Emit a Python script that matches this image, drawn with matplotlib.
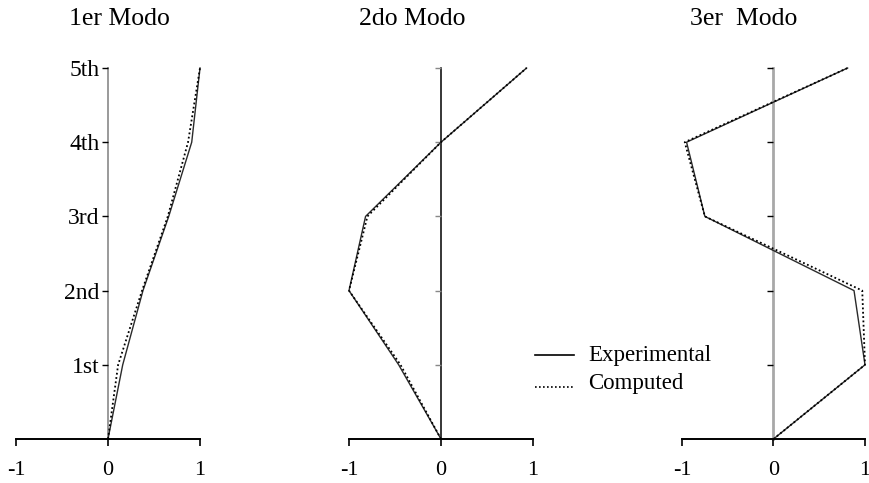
import matplotlib
matplotlib.use("Agg")
import matplotlib.pyplot as plt
from matplotlib.lines import Line2D

plt.rcParams['font.family'] = ['Liberation Serif', 'DejaVu Serif']
plt.rcParams['axes.unicode_minus'] = False

# floor levels (0 = ground)
levels = [0, 1, 2, 3, 4, 5]
level_names = ["1st", "2nd", "3rd", "4th", "5th"]

# modal shapes, normalised
mode1_exp = [0, 0.16, 0.38, 0.66, 0.91, 1.0]
mode1_cmp = [0, 0.11, 0.37, 0.65, 0.87, 1.0]
mode2_exp = [0, -0.46, -1.0, -0.82, 0.0, 0.93]
mode2_cmp = [0, -0.44, -1.0, -0.80, 0.0, 0.93]
mode3_exp = [0, 1.0, 0.88, -0.75, -0.95, 0.81]
mode3_cmp = [0, 1.0, 0.97, -0.75, -0.97, 0.81]

titles = ["1er Modo", "2do Modo", "3er  Modo"]
title_x = [119, 412, 744]

W, H = 870, 483
fig = plt.figure(figsize=(W / 100, H / 100), dpi=100)

# pixel position of x=-1 and x=1 for each panel
panel_px = [(16, 200), (349, 533), (682, 865)]
y0, y5 = 439, 68
spine_style = [("#9a9a9a", 1.4), ("black", 1.1), ("#a8a8a8", 2.0)]
tick_col = ["black", "#888888", "black"]

data = [(mode1_exp, mode1_cmp), (mode2_exp, mode2_cmp), (mode3_exp, mode3_cmp)]

for i, ((exp, cmp), (xl, xr)) in enumerate(zip(data, panel_px)):
    ax = fig.add_axes([xl / W, (H - y0) / H, (xr - xl) / W, (y0 - y5) / H])
    ax.plot(exp, levels, color="#2a2a2a", lw=1.0, clip_on=False)
    ax.plot(cmp, levels, color="black", lw=1.3, linestyle=(0, (1, 1.4)), clip_on=False)
    ax.set_xlim(-1, 1)
    ax.set_ylim(0, 5)
    ax.set_facecolor("none")
    for s in ["top", "right"]:
        ax.spines[s].set_visible(False)
    ax.spines["left"].set_position(("data", 0))
    ax.spines["left"].set_color(spine_style[i][0])
    ax.spines["left"].set_linewidth(spine_style[i][1])
    ax.spines["left"].set_zorder(0)
    ax.spines["bottom"].set_linewidth(1.4)
    ax.set_xticks([-1, 0, 1])
    ax.set_xticklabels(["-1", "0", "1"], fontsize=16)
    ax.tick_params(axis="x", direction="out", length=5, width=1.2, pad=11)
    ax.set_yticks(levels[1:])
    if i == 0:
        ax.set_yticklabels(level_names, fontsize=17)
    else:
        ax.set_yticklabels([])
    ax.tick_params(axis="y", direction="out", length=4, width=1.0,
                   color=tick_col[i], pad=2)
    fig.text(title_x[i] / W, 1 - 19 / H, titles[i], fontsize=18.5,
             ha="center", va="center")

# legend drawn by hand between panels 2 and 3
fig.add_artist(Line2D([535 / W, 574 / W], [1 - 355 / H, 1 - 355 / H],
                      color="black", lw=1.2))
fig.add_artist(Line2D([535 / W, 574 / W], [1 - 387 / H, 1 - 387 / H],
                      color="black", lw=1.2, linestyle=(0, (1, 1.4))))
fig.text(588 / W, 1 - 355 / H, "Experimental", fontsize=16.5, va="center")
fig.text(588 / W, 1 - 384 / H, "Computed", fontsize=16.5, va="center")

fig.savefig("out.png", dpi=100)
